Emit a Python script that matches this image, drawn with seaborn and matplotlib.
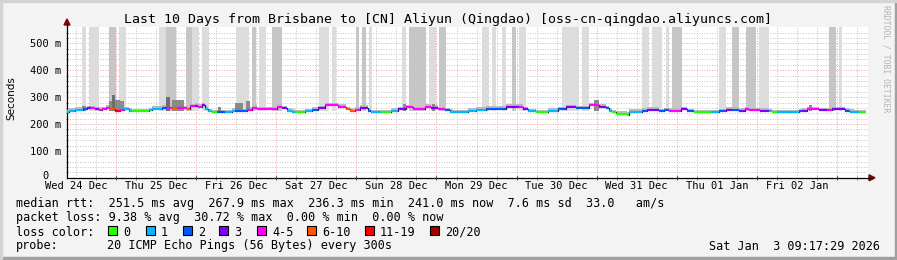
import numpy as np
import matplotlib
matplotlib.use("Agg")
import matplotlib.pyplot as plt
import matplotlib.transforms as mtransforms
import seaborn as sns
from matplotlib.patches import Rectangle, Polygon

# ---------------- data ----------------
title = "Last 10 Days from Brisbane to [CN] Aliyun (Qingdao) [oss-cn-qingdao.aliyuncs.com]"
day_labels = ["Wed 24 Dec", "Thu 25 Dec", "Fri 26 Dec", "Sat 27 Dec", "Sun 28 Dec",
              "Mon 29 Dec", "Tue 30 Dec", "Wed 31 Dec", "Thu 01 Jan", "Fri 02 Jan"]
y_tick_values = [0, 100, 200, 300, 400, 500]
y_tick_labels = ["0  ", "100 m", "200 m", "300 m", "400 m", "500 m"]

# hours since graph start (Wed 24 Dec 09:17:29)
seg_start_h = [0, 0.6, 2.4, 4.8, 6.0, 7.2, 8.4, 9.6, 10.5, 11.7, 12.9, 14.4, 15.9, 17.1, 18.6,
               19.5, 24.6, 25.5, 28.5, 30.0, 31.5, 33.0, 36.0, 36.9, 38.4, 39.3, 40.5, 41.3,
               42.2, 43.4, 44.9, 47.3, 49.4, 50.3, 53.9, 55.4, 56.9, 62.9, 64.4, 65.9, 67.4,
               68.3, 71.3, 73.4, 75.2, 77.3, 81.2, 83.6, 84.8, 86.3, 87.8, 90.2, 91.1, 94.1,
               97.1, 99.2, 101.6, 103.7, 107.3, 109.1, 111.2, 113.3, 114.8, 115.7, 120.2,
               122.5, 125.5, 131.5, 135.4, 136.6, 138.1, 140.5, 144.1, 147.1, 149.5, 152.5,
               156.4, 159.4, 161.5, 162.4, 163.3, 164.5, 167.8, 168.4, 172.3, 173.8, 177.4,
               178.9, 180.4, 184.0, 185.8, 187.9, 193.0, 195.4, 197.5, 199.3, 201.4, 203.1,
               204.3, 207.6, 210.3, 211.2, 212.7, 219.3, 220.2, 221.7, 225.3, 227.7, 229.2,
               233.1, 234.6, 235.8, 237.3]
data_end_h = 239.4
median_ms = [244, 249, 253, 255, 259, 258, 254, 253, 255, 260, 256, 249, 253, 254, 249,
             247, 251, 257, 261, 261, 261, 258, 255, 267, 268, 265, 271, 257,
             248, 243, 243, 243, 249, 248, 253, 261, 256, 265, 258, 250, 245,
             243, 248, 253, 259, 269, 265, 256, 249, 253, 261, 249, 244, 244,
             249, 254, 262, 256, 264, 261, 256, 251, 245, 243, 249,
             253, 257, 265, 265, 254, 247, 243, 249, 254, 262, 259,
             269, 265, 259, 249, 243, 238, 235, 245, 249, 253, 248,
             251, 249, 254, 247, 243, 243, 248, 253, 253, 249, 254,
             251, 249, 247, 243, 243, 247, 249, 254, 251, 251, 254,
             249, 245, 243, 243]
loss_idx = [1, 1, 1, 2, 3, 4, 3, 4, 4, 4, 5, 6, 4, 1, 1,
            0, 1, 1, 2, 4, 5, 4, 5, 4, 3, 4, 3, 1,
            1, 0, 2, 1, 1, 2, 4, 4, 4, 4, 3, 1, 1,
            0, 1, 2, 3, 4, 4, 5, 5, 4, 3, 2, 1, 0,
            1, 3, 4, 4, 4, 3, 4, 2, 1, 1, 1,
            1, 2, 3, 4, 3, 1, 0, 1, 2, 3, 2,
            4, 3, 2, 1, 0, 0, 0, 1, 2, 3, 2,
            2, 4, 3, 2, 0, 1, 2, 3, 2, 3, 4,
            4, 3, 1, 0, 1, 2, 3, 4, 3, 4, 3,
            2, 1, 1, 0]

loss_labels = ["0", "1", "2", "3", "4-5", "6-10", "11-19", "20/20"]
loss_colors = ["#26ff00", "#00b8ff", "#0059ff", "#7e00ff", "#ff00ff", "#ff5500", "#ff0000", "#a10000"]

# tall smoke columns: start h, end h, shade level (1 light, 2 medium)
col_start_h = [4.5, 6.6, 12.6, 15.6, 27.6, 29.7, 35.7, 37.5, 40.5, 50.6, 52.4, 55.4, 57.5,
               61.4, 75.5, 79.4, 86.6, 88.4, 90.5, 100.4, 102.5, 108.5, 111.5, 124.3, 127.3,
               130.3, 133.3, 135.4, 148.3, 154.3, 172.3, 175.3, 179.5, 181.3, 195.4, 199.3,
               203.4, 207.3, 228.3, 231.3]
col_end_h = [5.7, 9.6, 14.7, 17.7, 29.7, 32.7, 37.5, 39.6, 42.5, 52.4, 54.5, 56.6, 59.6,
             64.4, 78.5, 80.6, 87.5, 89.6, 91.4, 101.6, 107.6, 110.6, 113.6, 126.4, 128.5,
             131.5, 134.5, 137.5, 153.4, 156.4, 174.4, 178.3, 180.4, 184.3, 197.5, 201.4,
             206.4, 210.3, 230.4, 232.2]
col_level = [1, 1, 2, 1, 1, 2, 2, 1, 1, 1, 1, 2, 1,
             2, 1, 1, 2, 2, 1, 1, 2, 1, 2, 1, 1,
             1, 2, 1, 1, 1, 1, 1, 1, 2, 1, 2,
             2, 1, 2, 1]

# dark smoke spikes near the median: start h, end h, top ms
spike_start_h = [4.5, 12.6, 13.5, 14.4, 15.9, 29.7, 31.5, 32.7, 45.2, 50.3, 53.6, 100.7, 109.4, 157.9, 222.3]
spike_end_h = [5.7, 13.5, 14.4, 15.9, 17.1, 30.9, 32.7, 35.1, 46.1, 52.7, 54.8, 101.6, 110.3, 159.4, 223.2]
spike_top_ms = [266, 285, 308, 290, 285, 300, 289, 290, 265, 280, 285, 275, 275, 290, 270]

legend_rtt = "median rtt:  251.5 ms avg  267.9 ms max  236.3 ms min  241.0 ms now  7.6 ms sd  33.0   am/s"
legend_loss = "packet loss: 9.38 % avg  30.72 % max  0.00 % min  0.00 % now"
probe_text = "20 ICMP Echo Pings (56 Bytes) every 300s"
stamp_text = "Sat Jan  3 09:17:29 2026"

# ---------------- drawing ----------------
sns.set_theme(style="white")
plt.rcParams['font.family'] = ['DejaVu Sans Mono']

W, H = 897, 260
fig = plt.figure(figsize=(W / 100, H / 100), dpi=100, facecolor="#f3f3f3")

def fx(px):
    return px / W

def fy(py):
    return 1 - py / H

# frame
fig.add_artist(Rectangle((0, 0), 1, fy(257), transform=fig.transFigure, color="#a0a0a0", zorder=0))
fig.add_artist(Rectangle((fx(895), 0), fx(2), 1, transform=fig.transFigure, color="#a0a0a0", zorder=0))
fig.add_artist(Rectangle((0, 0), fx(2), 1, transform=fig.transFigure, color="#d4d4d4", zorder=0))
fig.add_artist(Rectangle((0, fy(2)), 1, fy(0) - fy(2), transform=fig.transFigure, color="#d4d4d4", zorder=0))

x0, x1, ytop, ybot = 67, 868, 27.2, 177.8
ax = fig.add_axes([fx(x0), fy(ybot), fx(x1 - x0), fy(ytop) - fy(ybot)])
ax.set_facecolor("white")
ax.set_xlim(0, 240)
ax.set_ylim(0, 560)

first_midnight = 24 - (9 + 17 / 60 + 29 / 3600)
red_grid = "#eba0a0"
gray_grid = "#c4c4c4"
dots = (0, (1.0, 1.6))

# grid lines
for yv in np.arange(20, 560, 20):
    major = (yv % 100 == 0)
    ax.axhline(yv, color=red_grid if major else gray_grid, lw=0.7, ls=dots, zorder=1)
h = first_midnight - 12
while h < 240:
    if h > 0:
        major = abs(((h - first_midnight) / 24) - round((h - first_midnight) / 24)) < 1e-6
        ax.axvline(h, color=red_grid if major else gray_grid, lw=0.7, ls=dots, zorder=1)
    h += 6

# tall smoke columns
shade = {1: "#dcdcdc", 2: "#c6c6c6"}
for s, e, lv in zip(col_start_h, col_end_h, col_level):
    ax.bar(s, 600, width=e - s, bottom=250, align="edge", color=shade[lv], lw=0, zorder=2)

# smoke band around median
xs = np.array(seg_start_h + [data_end_h])
ms = np.array(median_ms + [median_ms[-1]], dtype=float)
ax.fill_between(xs, ms - 3, ms + 9, step="post", color="#bcbcbc", lw=0, zorder=3)

# dark spikes
for s, e, t in zip(spike_start_h, spike_end_h, spike_top_ms):
    ax.bar(s, t - 250, width=e - s, bottom=250, align="edge",
           color="#6e6e6e" if t > 295 else "#8a8a8a", lw=0, zorder=3)

# median line colored by loss
n = len(seg_start_h)
for i in range(n):
    s = seg_start_h[i]
    e = seg_start_h[i + 1] if i + 1 < n else data_end_h
    c = loss_colors[loss_idx[i]]
    ax.plot([s, e], [median_ms[i], median_ms[i]], color=c, lw=1.6,
            solid_capstyle="butt", zorder=5)
    if i + 1 < n:
        ax.plot([e, e], [median_ms[i], median_ms[i + 1]], color="#202020", lw=0.9, zorder=4)

# axes styling
for sp in ["top", "right"]:
    ax.spines[sp].set_visible(False)
ax.spines["left"].set_color("black")
ax.spines["bottom"].set_color("black")
ax.spines["left"].set_linewidth(0.9)
ax.spines["bottom"].set_linewidth(0.9)
ax.set_yticks(y_tick_values)
ax.set_yticklabels(y_tick_labels)
ax.set_yticks(np.arange(20, 560, 20), minor=True)
noon_pos = [first_midnight - 12 + 24 * k for k in range(len(day_labels))]
ax.set_xticks(noon_pos)
ax.set_xticklabels(day_labels)
ax.set_xticks([first_midnight + 6 * k - 12 for k in range(42) if 0 < first_midnight + 6 * k - 12 < 240], minor=True)
ax.tick_params(axis="y", which="major", direction="inout", length=4, width=0.7, colors="#404040",
               labelsize=7.5, labelcolor="black", pad=2)
ax.tick_params(axis="y", which="minor", direction="inout", length=2, width=0.6, colors="#606060", left=True)
ax.tick_params(axis="x", which="major", length=0, labelsize=7.5, labelcolor="black", pad=2.5)
ax.tick_params(axis="x", which="minor", direction="inout", length=3, width=0.6, colors="#606060", bottom=True)
for mid in [first_midnight + 24 * k for k in range(10)]:
    ax.plot([mid, mid], [-6, 6], color="#404040", lw=0.7, clip_on=False, zorder=6)

# nudge the "0" label up a little, as in the reference
zero_lab = ax.get_yticklabels()[0]
zero_lab.set_transform(zero_lab.get_transform() +
                       mtransforms.ScaledTranslation(0, 3 / 100, fig.dpi_scale_trans))

# extended x axis line & arrows
fig.add_artist(plt.Line2D([fx(x1), fx(872)], [fy(ybot), fy(ybot)], color="black", lw=0.9,
                          transform=fig.transFigure))
fig.add_artist(Polygon([[fx(869), fy(ybot - 3)], [fx(869), fy(ybot + 3)], [fx(875), fy(ybot)]],
                       closed=True, transform=fig.transFigure, color="#8b0000"))
fig.add_artist(plt.Line2D([fx(x0), fx(x0)], [fy(ytop), fy(24)], color="black", lw=0.9,
                          transform=fig.transFigure))
fig.add_artist(Polygon([[fx(x0 - 3), fy(25)], [fx(x0 + 3), fy(25)], [fx(x0), fy(19)]],
                       closed=True, transform=fig.transFigure, color="#8b0000"))

# texts
fig.text(fx(447.5), fy(19), title, ha="center", va="center", fontsize=9.5, color="black")
fig.text(fx(11), fy(98), "Seconds", rotation=90, ha="center", va="center", fontsize=7.5,
         family=["DejaVu Sans"], color="black")
fig.text(fx(886), fy(5), "RRDTOOL / TOBI OETIKER", rotation=270, ha="center", va="top",
         fontsize=5.9, color="#b4b4b4")

lx = fx(16)
fig.text(lx, fy(204), legend_rtt, ha="left", va="center", fontsize=8.5, color="black")
fig.text(lx, fy(218), legend_loss, ha="left", va="center", fontsize=8.5, color="black")
fig.text(lx, fy(232), "loss color:", ha="left", va="center", fontsize=8.5, color="black")
box_x = [108, 146, 183, 219, 257, 307, 365, 430]
for bx, lab, col in zip(box_x, loss_labels, loss_colors):
    fig.add_artist(Rectangle((fx(bx), fy(235)), fx(9), fy(226) - fy(235), transform=fig.transFigure,
                             facecolor=col, edgecolor="black", lw=0.8))
    fig.text(fx(bx + 15), fy(232), lab, ha="left", va="center", fontsize=8.5, color="black")
fig.text(lx, fy(246), "probe:", ha="left", va="center", fontsize=8.5, color="black")
fig.text(fx(107), fy(246), probe_text, ha="left", va="center", fontsize=8.5, color="black")
fig.text(fx(880), fy(246), stamp_text, ha="right", va="center", fontsize=8.5, color="black")

fig.savefig("out.png", dpi=100, facecolor=fig.get_facecolor())
